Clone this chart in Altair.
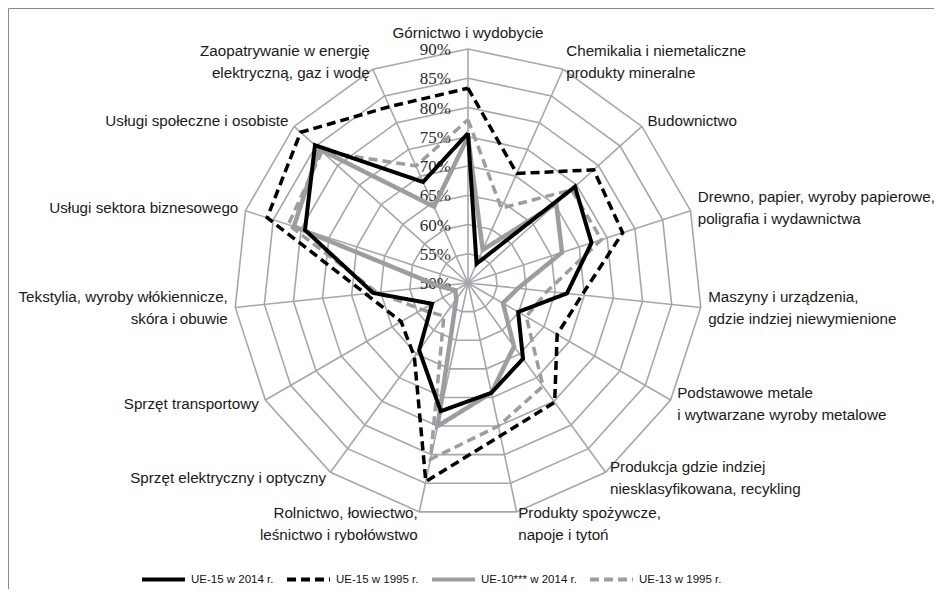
import altair as alt
import pandas as pd

categories = [
    "Górnictwo i wydobycie",
    "Chemikalia i niemetaliczne\nprodukty mineralne",
    "Budownictwo",
    "Drewno, papier, wyroby papierowe,\npoligrafia i wydawnictwa",
    "Maszyny i urządzenia,\ngdzie indziej niewymienione",
    "Podstawowe metale\ni wytwarzane wyroby metalowe",
    "Produkcja gdzie indziej\nniesklasyfikowana, recykling",
    "Produkty spożywcze,\nnapoje i tytoń",
    "Rolnictwo, łowiectwo,\nleśnictwo i rybołówstwo",
    "Sprzęt elektryczny i optyczny",
    "Sprzęt transportowy",
    "Tekstylia, wyroby włókiennicze,\nskóra i obuwie",
    "Usługi sektora biznesowego",
    "Usługi społeczne i osobiste",
    "Zaopatrywanie w energię\nelektryczną, gaz i wodę",
]

ue15_2014 = [75.6, 53.6, 74.6, 72.2, 67.0, 59.9, 66.0, 69.2, 72.4, 64.2, 57.1, 66.3, 79.3, 85.2, 68.9]
ue15_1995 = [83.3, 70.5, 78.9, 77.8, 69.6, 67.6, 75.2, 76.7, 84.7, 65.6, 63.2, 67.6, 86.1, 88.5, 83.0]
ue10_2014 = [75.0, 56.2, 70.3, 66.9, 58.6, 56.9, 63.4, 69.2, 75.0, 53.4, 52.5, 55.0, 81.3, 84.2, 64.3]
ue13_1995 = [77.9, 64.0, 73.8, 74.0, 63.6, 61.5, 71.8, 75.0, 80.8, 57.0, 59.1, 65.6, 82.3, 83.6, 71.9]

series_names = ["UE-15 w 2014 r.", "UE-15 w 1995 r.", "UE-10*** w 2014 r.", "UE-13 w 1995 r."]
series_values = [ue15_2014, ue15_1995, ue10_2014, ue13_1995]

tick_values = [50, 55, 60, 65, 70, 75, 80, 85, 90]
tick_labels = ["50%", "55%", "60%", "65%", "70%", "75%", "80%", "85%", "90%"]

N = len(categories)
BASE = 50.0
MAXV = 90.0

# ---- geometry of the canvas (pixels) ----
W, H = 926, 581
CX, CY = 460.0, 275.0          # centre of the radar inside the view
PX = 234.0 / (MAXV - BASE)      # pixels per percentage point
x_dom = [-CX / PX, (W - CX) / PX]
y_dom = [-(H - CY) / PX, CY / PX]
LABEL_R = (MAXV - BASE) + 7.5 / PX

# ---- data tables ----
rows = []
for name, vals in zip(series_names, series_values):
    for i in range(N + 1):
        rows.append({"series": name, "idx": i, "value": vals[i % N]})
df_series = pd.DataFrame(rows)

ring_rows = []
for lv in tick_values[1:]:
    for i in range(N + 1):
        ring_rows.append({"level": lv, "idx": i})
df_rings = pd.DataFrame(ring_rows)

df_spokes = pd.DataFrame({"idx": list(range(N))})
df_cats = pd.DataFrame({"idx": list(range(N)), "cat": categories})
df_ticks = pd.DataFrame({"level": tick_values, "label": tick_labels})

xs = alt.Scale(domain=x_dom, nice=False, zero=False)
ys = alt.Scale(domain=y_dom, nice=False, zero=False)

GRID = "#a4a7ab"
LABEL_FONT = "Liberation Sans, Arial"

theta = "datum.idx * 2 * PI / %d" % N

rings = alt.Chart(df_rings).transform_calculate(
    x=f"(datum.level - {BASE}) * sin({theta})",
    y=f"(datum.level - {BASE}) * cos({theta})",
).mark_line(color=GRID, strokeWidth=1.6).encode(
    x=alt.X("x:Q", scale=xs, axis=None),
    y=alt.Y("y:Q", scale=ys, axis=None),
    detail="level:O",
    order="idx:Q",
)

spokes = alt.Chart(df_spokes).transform_calculate(
    x0="0", y0="0",
    x1=f"{MAXV - BASE} * sin({theta})",
    y1=f"{MAXV - BASE} * cos({theta})",
).mark_rule(color=GRID, strokeWidth=1.6).encode(
    x=alt.X("x0:Q", scale=xs, axis=None),
    y=alt.Y("y0:Q", scale=ys, axis=None),
    x2="x1:Q",
    y2="y1:Q",
)

ticks = alt.Chart(df_ticks).transform_calculate(
    x="0", y=f"datum.level - {BASE}"
).mark_text(align="right", baseline="middle", dx=-17, dy=1,
            font="Liberation Serif", fontSize=17, color="#2a2a2a").encode(
    x=alt.X("x:Q", scale=xs, axis=None),
    y=alt.Y("y:Q", scale=ys, axis=None),
    text="label:N",
)

def cat_layer(filt, align, baseline, dy):
    return alt.Chart(df_cats).transform_calculate(
        s=f"sin({theta})", c=f"cos({theta})",
        two="indexof(datum.cat, '\\n') >= 0 ? 1 : 0",
    ).transform_filter(filt).transform_calculate(
        x=f"{LABEL_R} * datum.s", y=f"{LABEL_R} * datum.c",
    ).mark_text(align=align, baseline=baseline, lineBreak="\n", dy=dy,
                font=LABEL_FONT, fontSize=15.2, lineHeight=22,
                color="#1a1a1a").encode(
        x=alt.X("x:Q", scale=xs, axis=None),
        y=alt.Y("y:Q", scale=ys, axis=None),
        text="cat:N",
    )

cat_layers = [
    cat_layer("abs(datum.s) <= 0.05", "center", "bottom", -1),
    cat_layer("datum.s > 0.05 && datum.two == 0", "left", "middle", 0),
    cat_layer("datum.s > 0.05 && datum.two == 1 && datum.c > -0.95", "left", "middle", -11),
    cat_layer("datum.s > 0.05 && datum.two == 1 && datum.c <= -0.95", "left", "middle", -6),
    cat_layer("datum.s < -0.05 && datum.two == 0", "right", "middle", 0),
    cat_layer("datum.s < -0.05 && datum.two == 1 && datum.c > -0.95", "right", "middle", -11),
    cat_layer("datum.s < -0.05 && datum.two == 1 && datum.c <= -0.95", "right", "middle", -6),
]

legend = alt.Legend(
    title=None, orient="none", legendX=132, legendY=548, direction="horizontal",
    symbolType="stroke", symbolSize=1849, symbolStrokeWidth=4,
    labelFont=LABEL_FONT, labelFontSize=11.5, labelColor="#111",
    columnPadding=5, labelOffset=4, gridAlign="none",
)

color_scale = alt.Scale(domain=series_names, range=["#000000", "#000000", "#9b9da1", "#9b9da1"])
dash_scale = alt.Scale(domain=series_names, range=[[1, 0], [9, 5], [1, 0], [9, 5]])
widths = {series_names[0]: 4, series_names[1]: 3.5, series_names[2]: 4.5, series_names[3]: 3.5}

def series_layer(name):
    return alt.Chart(df_series).transform_filter(
        alt.datum.series == name
    ).transform_calculate(
        x=f"(datum.value - {BASE}) * sin({theta})",
        y=f"(datum.value - {BASE}) * cos({theta})",
    ).mark_line(strokeJoin="miter", strokeWidth=widths[name]).encode(
        x=alt.X("x:Q", scale=xs, axis=None),
        y=alt.Y("y:Q", scale=ys, axis=None),
        order="idx:Q",
        color=alt.Color("series:N", scale=color_scale, legend=legend),
        strokeDash=alt.StrokeDash("series:N", scale=dash_scale, legend=legend),
    )

lines = [series_layer(n) for n in [series_names[3], series_names[2], series_names[1], series_names[0]]]

chart = alt.layer(
    rings, spokes, ticks, *lines, *cat_layers
).properties(
    width=W, height=H, autosize=alt.AutoSizeParams(type="none"), padding=0
).configure_view(
    stroke="#8a8a8a", strokeWidth=1
)

chart.save("out.html", embed_options={"renderer": "svg", "actions": False})
